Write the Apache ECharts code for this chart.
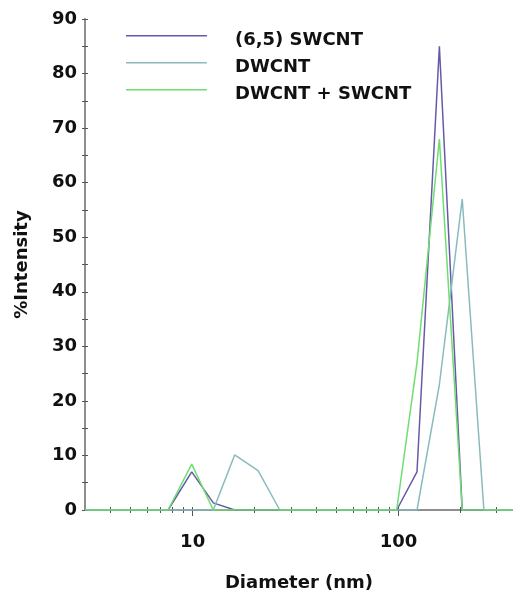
<!DOCTYPE html>
<html>
<head>
<meta charset="utf-8">
<script src="https://cdn.jsdelivr.net/npm/echarts@6/dist/echarts.min.js"></script>
<style>
html,body{margin:0;padding:0;background:#fff}
#chart{width:513px;height:597px}
</style>
</head>
<body>
<div id="chart"></div>
<script>
// size bins (nm) and % intensity
var sizes = [3, 7.6, 9.9, 12.6, 16, 20.8, 26.5, 98, 123, 158, 204, 260, 360];
var swcnt = [0, 0, 7, 1.3, 0, 0, 0, 0, 7, 85, 0, 0, 0];
var dwcnt = [0, 0, 0, 0, 10.1, 7.2, 0, 0, 0, 23, 57, 0, 0];
var mixed = [0, 0, 8.4, 0, 0, 0, 0, 0, 27, 68, 0, 0, 0];
var names = ['(6,5) SWCNT', 'DWCNT', 'DWCNT + SWCNT'];
var colors = ['#645aa8', '#88bcbc', '#6ede6e'];
var xMajor = [10, 100];
var xMinor = [4, 5, 6, 7, 8, 9, 20, 30, 40, 50, 60, 70, 80, 90, 200, 300];

function pairs(v) {
  return sizes.map(function (s, i) { return [s, v[i]]; });
}

var font = 'DejaVu Sans';
var axisGray = '#8e8e8e';

function xAx(ticks, inside, len, withLabel) {
  return {
    type: 'log', logBase: 10, min: 3, max: 360, position: 'bottom',
    axisLine: {show: withLabel, lineStyle: {color: axisGray, width: 2}},
    axisTick: {show: true, inside: inside, length: len, customValues: ticks,
      lineStyle: {color: '#555', width: 1}},
    axisLabel: {show: withLabel, customValues: xMajor, margin: 23,
      fontFamily: font, fontWeight: 'bold', fontSize: 18, color: '#111'},
    splitLine: {show: false},
    name: withLabel ? 'Diameter (nm)' : '', nameLocation: 'middle', nameGap: 64,
    nameTextStyle: {fontFamily: font, fontWeight: 'bold', fontSize: 18, color: '#111'}
  };
}

function yAx(inside, withLabel) {
  return {
    type: 'value', min: 0, max: 90, interval: 10, position: 'left',
    axisLine: {show: withLabel, lineStyle: {color: axisGray, width: 2}},
    axisTick: {show: true, inside: inside, length: 3, lineStyle: {color: '#555'}},
    minorTick: {show: true, splitNumber: 2, length: 3, lineStyle: {color: '#555'}},
    axisLabel: {show: withLabel, margin: 8,
      fontFamily: font, fontWeight: 'bold', fontSize: 18, color: '#111'},
    splitLine: {show: false},
    name: withLabel ? '%Intensity' : '', nameLocation: 'middle', nameGap: 54,
    nameTextStyle: {fontFamily: font, fontWeight: 'bold', fontSize: 18, color: '#111'}
  };
}

var chart = echarts.init(document.getElementById('chart'));
chart.setOption({
  animation: false,
  backgroundColor: '#fff',
  grid: {left: 85, right: 0, top: 19, bottom: 86},
  legend: {
    orient: 'vertical', left: 126, top: 31, padding: 0,
    // thin line sitting at the top of its icon box, a little above the text
    icon: 'path://M0,0H81V1.5H0ZM0,10H1V10.01H0Z',
    itemWidth: 81, itemHeight: 10, itemGap: 9,
    data: names,
    textStyle: {fontFamily: font, fontWeight: 'bold', fontSize: 18, color: '#111',
      lineHeight: 18, padding: [0, 0, 0, 23]}
  },
  xAxis: [
    xAx(xMajor, false, 6, true),
    xAx(xMajor.concat(xMinor), true, 3, false),
    xAx(xMinor, false, 3, false)
  ],
  yAxis: [yAx(false, true), yAx(true, false)],
  series: [
    {name: names[0], type: 'line', data: pairs(swcnt), color: colors[0]},
    {name: names[1], type: 'line', data: pairs(dwcnt), color: colors[1]},
    {name: names[2], type: 'line', data: pairs(mixed), color: colors[2]}
  ].map(function (s) {
    s.showSymbol = false;
    s.symbol = 'none';
    s.lineStyle = {width: 1.5};
    return s;
  })
});
</script>
</body>
</html>
